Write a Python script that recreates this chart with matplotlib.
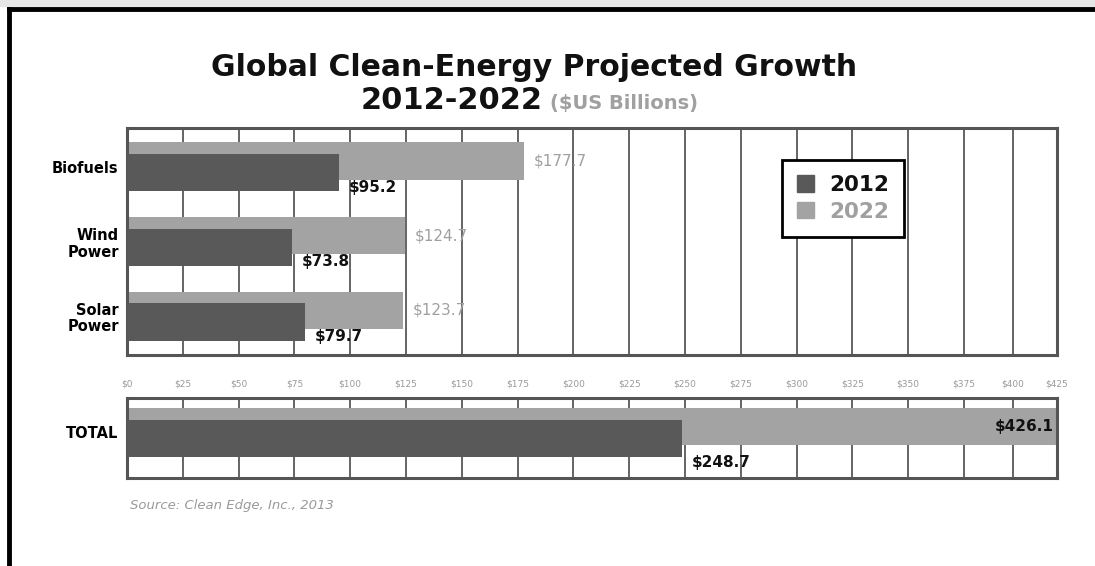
import matplotlib
matplotlib.use('Agg')
import matplotlib.pyplot as plt
import numpy as np
from matplotlib.patches import Patch
from matplotlib.lines import Line2D

categories = ["Biofuels", "Wind\nPower", "Solar\nPower"]
values_2012 = [95.2, 73.8, 79.7]
values_2022 = [177.7, 124.7, 123.7]
total_2012 = 248.7
total_2022 = 426.1
ticks = list(range(0, 426, 25))
tick_labels = ["$%d" % t for t in ticks]

DARK = "#595959"
LIGHT = "#a3a3a3"
GRID = "#3a3a3a"
SPINE = "#555555"

# the source graphic squeezes the last two columns, copy that
_xp = [-1e4, 0, 375, 400, 425, 1e4]
_fp = [-1e4, 0, 375, 397.0, 416.7, 416.7 + (1e4 - 425) * 0.788]


def fwd(x):
    return np.interp(x, _xp, _fp)


def inv(y):
    return np.interp(y, _fp, _xp)


W, H = 1095, 566
fig = plt.figure(figsize=(W / 100, H / 100), dpi=100)


def px_rect(x0, y0, x1, y1):
    return [x0 / W, 1 - y1 / H, (x1 - x0) / W, (y1 - y0) / H]


def style_axes(ax):
    ax.set_xscale('function', functions=(fwd, inv))
    ax.set_xlim(0, 425)
    ax.set_xticks(ticks)
    ax.grid(axis='x', color=GRID, linewidth=1.1)
    ax.set_axisbelow(True)
    for s in ax.spines.values():
        s.set_color(SPINE)
        s.set_linewidth(2.2)
    ax.tick_params(axis='x', length=0)
    ax.tick_params(axis='y', length=0)


# frame of the original graphic
fig.patches.append(plt.Rectangle((0, 1 - 6 / H), 1, 6 / H, transform=fig.transFigure,
                                 color="#e6e6e6", zorder=0))
fig.add_artist(Line2D([9 / W, 1], [1 - 9 / H, 1 - 9 / H], color='black', lw=3.5,
                      transform=fig.transFigure))
fig.add_artist(Line2D([9 / W, 9 / W], [0, 1 - 9 / H], color='black', lw=3.5,
                      transform=fig.transFigure))

# titles
fig.text(534 / W, 1 - 68 / H, "Global Clean-Energy Projected Growth", ha='center', va='center',
         fontsize=21.5, fontweight='bold', color='#111111')
fig.text(543 / W, 1 - 109 / H, "2012-2022", ha='right', va='baseline',
         fontsize=22, fontweight='bold', color='#111111')
fig.text(550 / W, 1 - 109 / H, "($US Billions)", ha='left', va='baseline',
         fontsize=14, fontweight='bold', color='#a0a0a0')

# top panel
ax = fig.add_axes(px_rect(127, 128, 1057, 355))
style_axes(ax)
y = np.arange(len(categories))
h = 0.5
off = 0.08
ax.barh(y - off, values_2022, height=h, color=LIGHT, zorder=2)
ax.barh(y + off, values_2012, height=h, color=DARK, zorder=3)
ax.set_ylim(len(categories) - 1 + 0.52, -0.52)
ax.set_yticks(y)
ax.set_yticklabels(categories, fontsize=10.5, fontweight='bold', linespacing=1.15)
ax.tick_params(axis='y', pad=6)
ax.set_xticklabels([])
for i in range(len(categories)):
    ax.annotate("$%.1f" % values_2022[i], (values_2022[i], y[i] - off), xytext=(7, 0),
                textcoords='offset points', va='center', ha='left', fontsize=11,
                color='#a0a0a0', zorder=5)
    ax.annotate("$%.1f" % values_2012[i], (values_2012[i], y[i] + off + h / 2), xytext=(7, 3),
                textcoords='offset points', va='center', ha='left', fontsize=11,
                fontweight='bold', color='#111111', zorder=5)

leg = ax.legend(handles=[Patch(color=DARK, label="2012"), Patch(color=LIGHT, label="2022")],
                loc='upper left', bbox_to_anchor=((782 - 127) / 930, 1 - (160 - 128) / 227),
                frameon=True, fancybox=False, edgecolor='black', framealpha=1,
                prop={'size': 15.5, 'weight': 'bold'}, handlelength=0.8, handleheight=0.8,
                handletextpad=0.7, borderpad=0.7, labelspacing=0.3, borderaxespad=0)
leg.get_frame().set_linewidth(2)
leg.texts[0].set_color('#111111')
leg.texts[1].set_color('#a0a0a0')

# total panel
ax2 = fig.add_axes(px_rect(127, 398, 1057, 478))
style_axes(ax2)
ax2.barh([0 - off], [total_2022], height=h, color=LIGHT, zorder=2, clip_on=False)
ax2.barh([0 + off], [total_2012], height=h, color=DARK, zorder=3)
ax2.set_ylim(0.607, -0.46)
ax2.set_yticks([0])
ax2.set_yticklabels(["TOTAL"], fontsize=10.5, fontweight='bold')
ax2.tick_params(axis='y', pad=6)
ax2.xaxis.tick_top()
ax2.set_xticklabels(tick_labels, fontsize=6.5, color='#9a9a9a')
ax2.tick_params(axis='x', pad=7)
ax2.annotate("$%.1f" % total_2022, (total_2022, -off), xytext=(-4, 0),
             textcoords='offset points', va='center', ha='right', fontsize=11,
             fontweight='bold', color='#111111', zorder=5, annotation_clip=False)
ax2.annotate("$%.1f" % total_2012, (total_2012, off + h / 2), xytext=(7, -4),
             textcoords='offset points', va='center', ha='left', fontsize=11,
             fontweight='bold', color='#111111', zorder=5, annotation_clip=False)

fig.text(130 / W, 1 - 505 / H, "Source: Clean Edge, Inc., 2013", ha='left', va='center',
         fontsize=9.5, style='italic', color='#9a9a9a')

fig.savefig("out.png", dpi=100, facecolor='white')
